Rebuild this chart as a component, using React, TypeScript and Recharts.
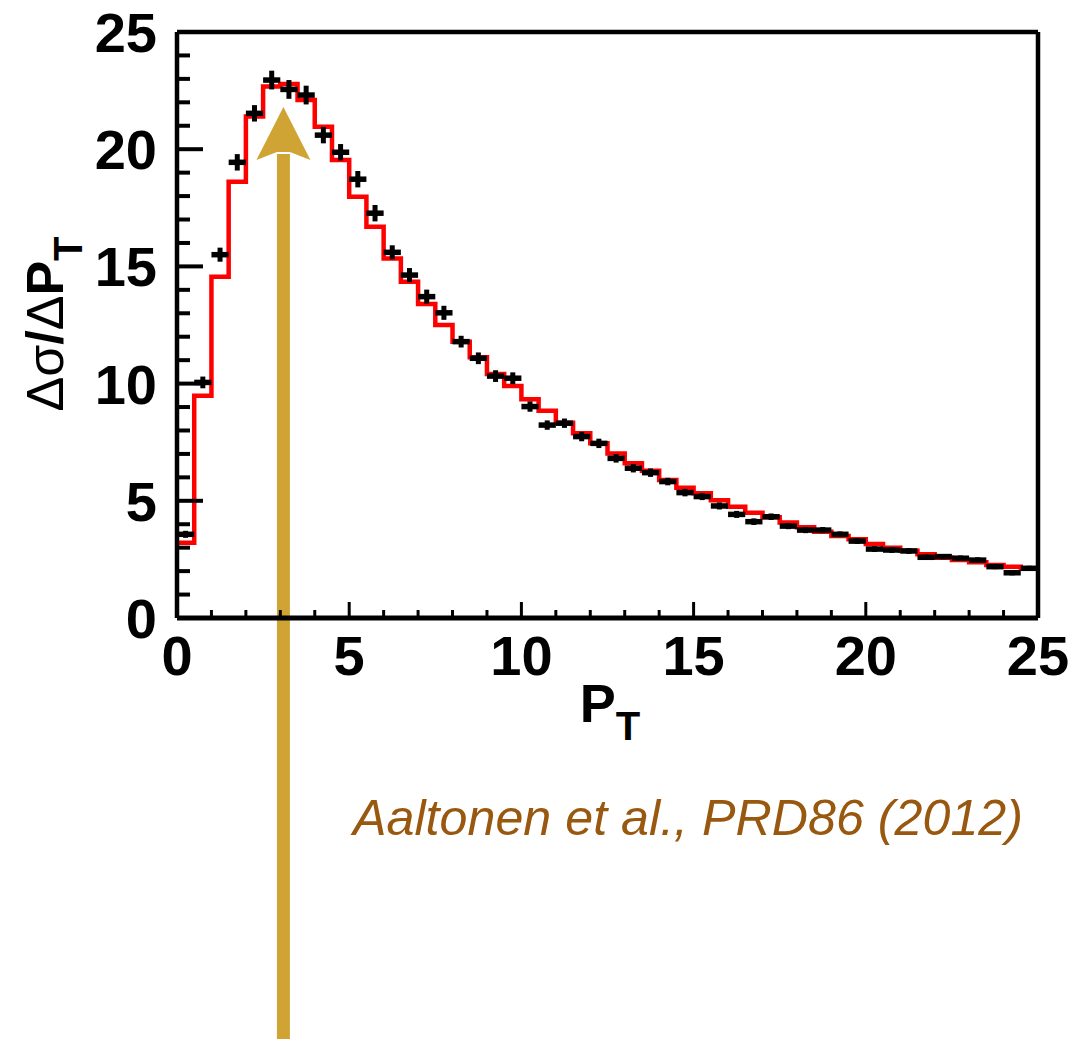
import React from "react";
import {
  ComposedChart, Line, Scatter, ErrorBar, XAxis, YAxis, ReferenceLine, ReferenceDot,
} from "recharts";

// bin centres of the PT histogram (GeV), 0.5 wide bins
const PT_CENTERS = [
  0.25, 0.75, 1.25, 1.75, 2.25, 2.75, 3.25, 3.75, 4.25, 4.75,
  5.25, 5.75, 6.25, 6.75, 7.25, 7.75, 8.25, 8.75, 9.25, 9.75,
  10.25, 10.75, 11.25, 11.75, 12.25, 12.75, 13.25, 13.75, 14.25, 14.75,
  15.25, 15.75, 16.25, 16.75, 17.25, 17.75, 18.25, 18.75, 19.25, 19.75,
  20.25, 20.75, 21.25, 21.75, 22.25, 22.75, 23.25, 23.75, 24.25, 24.75,
];
const HALF_BIN = 0.25;

// measured points (black crosses)
const DATA_Y = [
  3.57, 10.05, 15.5, 19.44, 21.53, 22.95, 22.55, 22.31, 20.6, 19.87,
  18.72, 17.27, 15.6, 14.63, 13.71, 13.02, 11.79, 11.08, 10.32, 10.23,
  9.02, 8.23, 8.31, 7.74, 7.45, 6.81, 6.39, 6.2, 5.82, 5.35,
  5.18, 4.78, 4.42, 4.11, 4.32, 3.92, 3.75, 3.75, 3.57, 3.28,
  2.94, 2.9, 2.86, 2.59, 2.62, 2.55, 2.47, 2.19, 1.93, 2.12,
];
const DATA_ERR = [
  0.15, 0.25, 0.3, 0.35, 0.35, 0.4, 0.4, 0.4, 0.35, 0.35,
  0.35, 0.35, 0.3, 0.3, 0.3, 0.3, 0.25, 0.25, 0.25, 0.25,
  0.22, 0.2, 0.2, 0.2, 0.2, 0.18, 0.18, 0.18, 0.16, 0.16,
  0.15, 0.15, 0.15, 0.14, 0.14, 0.13, 0.13, 0.13, 0.12, 0.12,
  0.12, 0.12, 0.12, 0.11, 0.11, 0.11, 0.11, 0.1, 0.1, 0.1,
];

// prediction histogram (red steps)
const MC_Y = [
  3.21, 9.48, 14.56, 18.61, 21.39, 22.67, 22.78, 22.1, 20.96, 19.54,
  17.97, 16.69, 15.34, 14.35, 13.4, 12.5, 11.79, 11.12, 10.41, 9.9,
  9.33, 8.84, 8.33, 7.88, 7.45, 7.02, 6.6, 6.28, 5.89, 5.56,
  5.32, 5.02, 4.75, 4.49, 4.3, 4.07, 3.87, 3.68, 3.5, 3.36,
  3.16, 3.0, 2.87, 2.72, 2.57, 2.47, 2.38, 2.26, 2.19, 2.12,
];

const TICKS = [0, 1, 2, 3, 4, 5, 6, 7, 8, 9, 10, 11, 12, 13, 14, 15, 16, 17, 18, 19, 20, 21, 22, 23, 24, 25];

// arrow annotation (data coords)
const ARROW_X = 3.09;
const ARROW_TIP = 21.8;
const ARROW_BOTTOM = -19;

const points = PT_CENTERS.map((x, i) => ({ x, y: DATA_Y[i], ex: HALF_BIN, ey: DATA_ERR[i] }));
const steps = [
  ...PT_CENTERS.map((c, i) => ({ x: c - HALF_BIN, y: MC_Y[i] })),
  { x: PT_CENTERS[PT_CENTERS.length - 1] + HALF_BIN, y: MC_Y[MC_Y.length - 1] },
];

const font = "'Liberation Sans', Arial, Helvetica, sans-serif";
const gold = "#cfa435";
const tickText = { fontFamily: font, fontWeight: 700, fontSize: 56, fill: "#000" };

const YTick = (p: any) => {
  const v = p.payload.value;
  const major = v % 5 === 0;
  return (
    <g>
      {v > 0 && v < 25 && (
        <line x1={p.x} x2={p.x + (major ? 26 : 13)} y1={p.y} y2={p.y} stroke="#000" strokeWidth={4} />
      )}
      {major && (
        <text x={p.x - 20} y={p.y + 20} textAnchor="end" style={tickText}>{v}</text>
      )}
    </g>
  );
};

const XTick = (p: any) => {
  const v = p.payload.value;
  const major = v % 5 === 0;
  return (
    <g>
      {v > 0 && v < 25 && (
        <line x1={p.x} x2={p.x} y1={p.y} y2={p.y - (major ? 16 : 8)} stroke="#000" strokeWidth={3} />
      )}
      {major && (
        <text x={p.x} y={p.y + 57} textAnchor="middle" style={tickText}>{v}</text>
      )}
    </g>
  );
};

const ArrowHead = (p: any) => {
  const { cx, cy } = p;
  return (
    <polygon
      points={`${cx},${cy} ${cx + 27},${cy + 53} ${cx + 6.5},${cy + 45} ${cx - 6.5},${cy + 45} ${cx - 27},${cy + 53}`}
      fill={gold}
    />
  );
};

const Cross = (p: any) => <rect x={p.cx - 2.5} y={p.cy - 2.5} width={5} height={5} fill="#000" />;

export default function App() {
  return (
    <div style={{ position: "absolute", left: 0, top: 0, width: 1089, height: 1039, background: "#fff" }}>
      <ComposedChart
        width={1089}
        height={1039}
        margin={{ left: 176, right: 51, top: 32, bottom: 420 }}
      >
        <XAxis
          type="number" dataKey="x" domain={[0, 25]} ticks={TICKS} interval={0}
          allowDataOverflow height={1} tickSize={0} tickMargin={0}
          axisLine={{ stroke: "#000", strokeWidth: 5 }} tickLine={false} tick={XTick}
        />
        <YAxis
          type="number" dataKey="y" domain={[0, 25]} ticks={TICKS} interval={0}
          allowDataOverflow width={1} tickSize={0} tickMargin={0}
          axisLine={{ stroke: "#000", strokeWidth: 4.5 }} tickLine={false} tick={YTick}
        />
        <ReferenceLine y={25} stroke="#000" strokeWidth={4.5} />
        <ReferenceLine x={25} stroke="#000" strokeWidth={4.5} />
        <Line
          data={steps} dataKey="y" type="stepAfter" stroke="#ff0000" strokeWidth={4.5}
          dot={false} activeDot={false} isAnimationActive={false}
        />
        <Scatter data={points} dataKey="y" fill="#000" shape={Cross} isAnimationActive={false}>
          <ErrorBar dataKey="ex" direction="x" width={0} stroke="#000" strokeWidth={5.5} />
          <ErrorBar dataKey="ey" direction="y" width={0} stroke="#000" strokeWidth={5} />
        </Scatter>
        <ReferenceLine
          segment={[{ x: ARROW_X, y: ARROW_BOTTOM }, { x: ARROW_X, y: ARROW_TIP - 2 }]}
          stroke={gold} strokeWidth={13} ifOverflow="visible"
        />
        <ReferenceDot x={ARROW_X} y={ARROW_TIP} shape={ArrowHead} ifOverflow="visible" />
      </ComposedChart>
      <svg
        width={1089} height={1039}
        style={{ position: "absolute", left: 0, top: 0, pointerEvents: "none" }}
      >
        <text
          transform="translate(63,324) rotate(-90)" textAnchor="middle"
          style={{ fontFamily: font, fontWeight: 700, fontSize: 52, fill: "#000" }}
        >
          <tspan fontWeight={400}>Δσ</tspan>/<tspan fontWeight={400}>Δ</tspan>P
          <tspan dy={19} fontSize={40}>T</tspan>
        </text>
        <text
          x={610} y={722} textAnchor="middle"
          style={{ fontFamily: font, fontWeight: 700, fontSize: 54, fill: "#000" }}
        >
          P<tspan dy={18} fontSize={40}>T</tspan>
        </text>
        <text
          x={353} y={835} textLength={670} lengthAdjust="spacingAndGlyphs"
          style={{ fontFamily: font, fontStyle: "italic", fontSize: 50, fill: "#99580f" }}
        >
          Aaltonen et al., PRD86 (2012)
        </text>
      </svg>
    </div>
  );
}
